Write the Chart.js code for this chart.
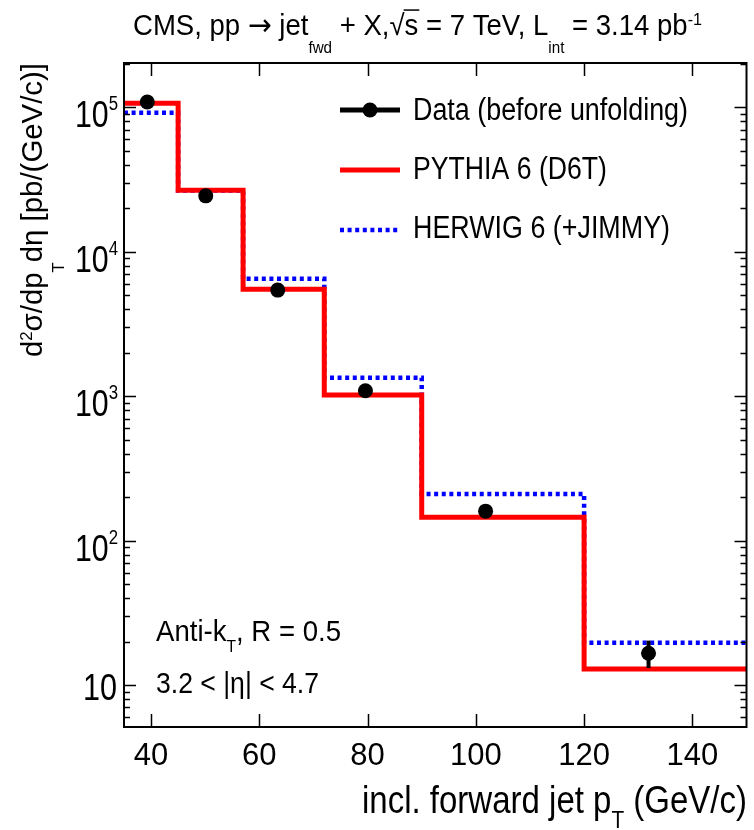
<!DOCTYPE html>
<html>
<head>
<meta charset="utf-8">
<title>Forward jet pT</title>
<script src="https://cdn.jsdelivr.net/npm/chart.js@4.4.1/dist/chart.umd.min.js"></script>
<style>
  html, body { margin: 0; padding: 0; background: #fff; }
  #chart { display: block; }
</style>
</head>
<body>
<canvas id="chart" width="754" height="830"></canvas>
<script>
// bin edges (GeV/c) and per-bin values (pb/(GeV/c))
const binEdges = [35, 45, 57, 72, 90, 120, 150]
const pythia = [1.07e5, 2.67e4, 5.5e3, 1.02e3, 145, 12.9]
const herwig = [9.2e4, 2.66e4, 6.5e3, 1.34e3, 210, 19.6]

// measured points (before unfolding)
const dataX = [39.3, 50.1, 63.4, 79.6, 101.8, 131.9]
const dataY = [1.09e5, 2.44e4, 5.43e3, 1.09e3, 160, 16.6]
const dataLo = [1.08e5, 2.42e4, 5.35e3, 1.06e3, 154, 13.1]
const dataHi = [1.10e5, 2.46e4, 5.5e3, 1.12e3, 166, 20.3]

const xTicks = [40, 60, 80, 100, 120, 140]
const yMajor = [10, 100, 1000, 10000, 100000]
const yExp = ['', '2', '3', '4', '5']

const FONT = '"Liberation Sans", Arial, Helvetica, sans-serif'

// histogram -> points at the left edges, last edge repeats the last value
const steps = vals => binEdges.map((x, i) => ({ x, y: vals[Math.min(i, vals.length - 1)] }))

function fontOf(r, F) {
    return (r.size || (r.k ? F * 0.6 : F)) + 'px ' + (r.family || FONT)
}
function runsWidth(ctx, runs, F) {
    let w = 0
    for (const r of runs) {
        ctx.font = fontOf(r, F)
        w += ctx.measureText(r.t).width
    }
    return w
}
// draw a line of text made of runs (normal / sub / sup), squeezed to a width
function drawRuns(ctx, runs, x, y, F, width, align) {
    const nat = runsWidth(ctx, runs, F)
    const sx = width ? width / nat : 1
    const w = nat * sx
    const x0 = align === 'right' ? x - w : align === 'center' ? x - w / 2 : x
    ctx.save()
    ctx.translate(x0, y)
    ctx.scale(sx, 1)
    ctx.fillStyle = '#000'
    ctx.textBaseline = 'alphabetic'
    ctx.textAlign = 'left'
    let cx = 0
    for (const r of runs) {
        ctx.font = fontOf(r, F)
        const dy = r.dy != null ? r.dy : 0
        ctx.fillText(r.t, cx, dy)
        const rw = ctx.measureText(r.t).width
        if (r.over) {
            ctx.beginPath()
            ctx.lineWidth = 1.5
            ctx.strokeStyle = '#000'
            ctx.moveTo(cx - 1, dy - F * 0.86)
            ctx.lineTo(cx + rw + 1, dy - F * 0.86)
            ctx.stroke()
        }
        cx += rw
    }
    ctx.restore()
}

const cmsDecor = {
    id: 'cmsDecor',
    afterDatasetsDraw(chart) {
        const { ctx, scales } = chart
        const x = scales.x, y = scales.y
        // error bars on the data points
        ctx.save()
        ctx.strokeStyle = '#000'
        ctx.lineWidth = 4
        dataX.forEach((v, i) => {
            const px = x.getPixelForValue(v)
            ctx.beginPath()
            ctx.moveTo(px, y.getPixelForValue(dataLo[i]))
            ctx.lineTo(px, y.getPixelForValue(dataHi[i]))
            ctx.stroke()
        })
        ctx.restore()
    },
    afterDraw(chart) {
        const { ctx, chartArea: a, scales } = chart
        const x = scales.x, y = scales.y
        ctx.save()
        // frame
        ctx.strokeStyle = '#000'
        ctx.lineWidth = 2
        ctx.strokeRect(a.left, a.top, a.right - a.left, a.bottom - a.top)
        // inward ticks
        ctx.lineWidth = 1.5
        ctx.beginPath()
        xTicks.forEach(v => {
            const px = Math.round(x.getPixelForValue(v)) + 0.5
            ctx.moveTo(px, a.bottom); ctx.lineTo(px, a.bottom - 13)
            ctx.moveTo(px, a.top); ctx.lineTo(px, a.top + 13)
        })
        for (let dec = 1; dec <= 1e5; dec *= 10) {
            for (let m = 1; m <= 9; m++) {
                const v = m * dec
                if (v < y.min || v > y.max) continue
                const py = Math.round(y.getPixelForValue(v)) + 0.5
                const len = m === 1 ? 12 : 6
                ctx.moveTo(a.left, py); ctx.lineTo(a.left + len, py)
                ctx.moveTo(a.right, py); ctx.lineTo(a.right - len, py)
            }
        }
        ctx.stroke()

        // x tick labels
        xTicks.forEach(v => {
            drawRuns(ctx, [{ t: String(v) }], x.getPixelForValue(v), 765, 31, 0, 'center')
        })
        // y tick labels
        yMajor.forEach((v, i) => {
            const py = y.getPixelForValue(v)
            if (!yExp[i]) {
                drawRuns(ctx, [{ t: '10' }], 117, py + 15, 36, 34, 'right')
            } else {
                drawRuns(ctx, [{ t: '10' }, { t: yExp[i], size: 20, dy: -17 }], 118, py + 20, 36, 43, 'right')
            }
        })

        // title
        drawRuns(ctx, [
            { t: 'CMS, pp ' },
            { t: '\u2192', size: 30, family: '"DejaVu Sans", sans-serif' },
            { t: ' jet' },
            { t: 'fwd', size: 16, dy: 18 },
            { t: ' + X,' },
            { t: '\u221A' },
            { t: 's', over: true },
            { t: ' = 7 TeV, L' },
            { t: 'int', size: 16, dy: 18 },
            { t: ' = 3.14 pb' },
            { t: '-1', size: 17, dy: -10 },
        ], 133, 35, 29, 569, 'left')

        // x axis title
        drawRuns(ctx, [
            { t: 'incl. forward jet p' },
            { t: 'T', size: 24, dy: 15 },
            { t: ' (GeV/c)' },
        ], 747, 813, 38, 385, 'right')

        // y axis title
        ctx.save()
        ctx.translate(42, 357)
        ctx.rotate(-Math.PI / 2)
        drawRuns(ctx, [
            { t: 'd' },
            { t: '2', size: 17, dy: -10 },
            { t: '\u03C3/dp' },
            { t: 'T', size: 17, dy: 22 },
            { t: 'd\u03B7 ' },
            { t: '[pb/(GeV/c)]' },
        ], 0, 0, 30, 294, 'left')
        ctx.restore()

        // annotations
        drawRuns(ctx, [
            { t: 'Anti-k' },
            { t: 'T', size: 17, dy: 11 },
            { t: ', R = 0.5' },
        ], 156, 641, 30, 185, 'left')
        drawRuns(ctx, [{ t: '3.2 < |\u03B7| < 4.7' }], 156, 693, 30, 163, 'left')

        // legend
        const ds = chart.data.datasets
        const lx0 = 340, lx1 = 400
        const rows = [110, 170, 230]
        ds.forEach((d, i) => {
            const ly = rows[i]
            ctx.save()
            ctx.beginPath()
            ctx.strokeStyle = i === 0 ? '#000' : d.borderColor
            ctx.lineWidth = i === 0 ? 5 : d.borderWidth
            ctx.setLineDash(d.borderDash || [])
            ctx.moveTo(lx0, ly); ctx.lineTo(lx1, ly)
            ctx.stroke()
            if (i === 0) {
                ctx.beginPath()
                ctx.fillStyle = '#000'
                ctx.arc((lx0 + lx1) / 2, ly, 7.5, 0, Math.PI * 2)
                ctx.fill()
            }
            ctx.restore()
        })
        drawRuns(ctx, [{ t: ds[0].label }], 413, 120, 31, 275, 'left')
        drawRuns(ctx, [{ t: ds[1].label }], 413, 179, 31, 194, 'left')
        drawRuns(ctx, [{ t: ds[2].label }], 413, 238, 31, 257, 'left')
        ctx.restore()
    },
}

new Chart(document.getElementById('chart'), {
    type: 'line',
    data: {
        datasets: [
            {
                label: 'Data (before unfolding)',
                data: dataX.map((v, i) => ({ x: v, y: dataY[i] })),
                showLine: false,
                pointRadius: 7.5,
                pointBackgroundColor: '#000',
                pointBorderColor: '#000',
                pointBorderWidth: 0,
            },
            {
                label: 'PYTHIA 6 (D6T)',
                data: steps(pythia),
                stepped: true,
                borderColor: 'rgb(255,0,0)',
                borderWidth: 5,
                pointRadius: 0,
                fill: false,
            },
            {
                label: 'HERWIG 6 (+JIMMY)',
                data: steps(herwig),
                stepped: true,
                borderColor: 'rgb(0,0,255)',
                borderWidth: 4.5,
                borderDash: [4, 3.6],
                pointRadius: 0,
                fill: false,
            },
        ],
    },
    options: {
        responsive: false,
        devicePixelRatio: 1,
        animation: false,
        events: [],
        layout: { padding: { left: 0, right: 4, top: 63, bottom: 0 } },
        plugins: {
            legend: { display: false },
            title: { display: false },
            tooltip: { enabled: false },
        },
        scales: {
            x: {
                type: 'linear',
                min: 35,
                max: 150,
                grid: { display: false },
                border: { display: false },
                ticks: { display: false },
                afterFit: s => { s.height = 103 },
            },
            y: {
                type: 'logarithmic',
                min: 5.12,
                max: 2.03e5,
                grid: { display: false },
                border: { display: false },
                ticks: { display: false },
                afterFit: s => { s.width = 124 },
            },
        },
    },
    plugins: [cmsDecor],
})
</script>
</body>
</html>
